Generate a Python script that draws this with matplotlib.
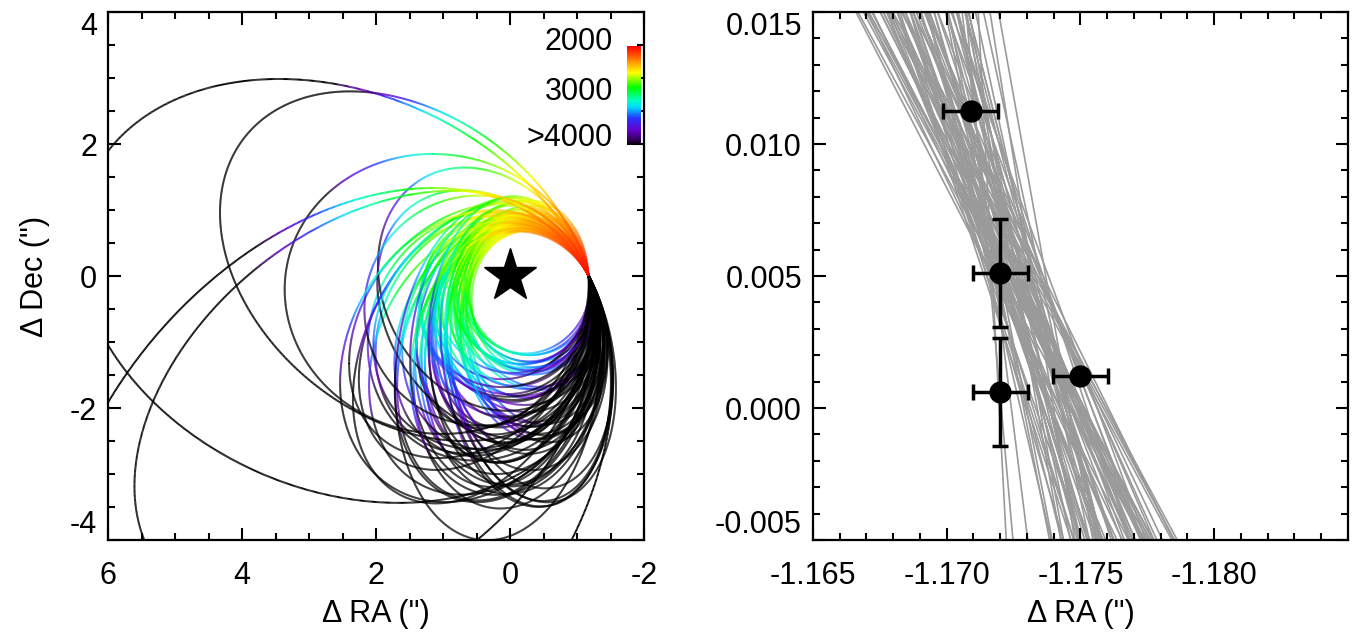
import numpy as np
import matplotlib
matplotlib.use("Agg")
import matplotlib.pyplot as plt
from matplotlib.collections import LineCollection
from matplotlib.colors import LinearSegmentedColormap, Normalize
from matplotlib.cm import ScalarMappable
from matplotlib.ticker import MultipleLocator

plt.rcParams['font.family'] = ['Liberation Sans', 'DejaVu Sans']
plt.rcParams['axes.unicode_minus'] = False

# measured astrometry (arcsec)
obs_ra = [-1.1709, -1.1720, -1.1720, -1.1750]
obs_dec = [0.01126, 0.0051, 0.0006, 0.00123]
obs_era = [0.00103, 0.00103, 0.00103, 0.00103]
obs_edec = [0.0002, 0.00205, 0.00205, 0.0002]

epoch = 2015.0
gm = 1.2e-5               # arcsec^3 / yr^2
ra_ref, dec_ref = -1.1726, 0.005

# accepted orbits: semi-major axis (arcsec), PA of sky motion (deg),
# line-of-sight offset (arcsec), radial share of the speed, RA offset of track (mas)
a_sma = [1.40, 1.15, 1.30, 1.60, 1.05, 1.60, 1.90, 1.20, 1.10, 1.70, 1.25, 1.65,
         1.95, 1.10, 1.40, 1.30, 1.75, 1.20, 1.30, 2.00, 1.05, 1.45, 1.80, 1.15,
         1.60, 1.00, 1.70, 1.30, 1.45, 1.20, 1.35, 1.75, 1.10, 1.60, 1.90, 1.25,
         1.05, 1.70, 1.35, 1.50, 1.80, 1.15, 1.40, 2.00, 1.20, 1.65, 1.35, 1.10,
         1.9, 2.1, 1.8, 2.2, 1.8, 2.1, 2.2, 1.7, 2.2, 2.0, 1.9, 2.2,
         2.0, 2.2, 1.8, 1.8, 2.1, 1.9, 1.9, 2.2, 2.2, 2.1, 2.2, 1.9,
         5.0, 3.5, 2.2, 2.4, 2.2, 2.6, 2.3, 2.5, 6.0, 2.2, 2.3, 4.0]
pa_vel = [18, 22, 14, 26, 20, 12, 28, 16, 24, 10, 28, 19,
          23, 15, 27, 21, 5, 13, 25, 28, 11, 20, 24, 16,
          22, 18, 27, 9, 26, 14, 21, 27, 15, 23, 19, 28,
          12, 25, 17, 22, 3, 10, 19, 24, 14, 26, 16, 21,
          18, 24, 14, 28, 20, 11, 22, 16, 26, 12, 19, 25,
          15, 28, 21, 13, 27, 17, 23, 7, 20, 27, 14, 18,
          20, 15, 25, 12, 28, 18, 22, 10, 28, 16, 24, 19]
z_los = [0.5, -0.5, 0.7, -1.1, 0.3, 1.0, 0.9, -0.9, 0.0, 1.1, -0.5, 1.2,
         -0.7, 0.3, -0.3, 0.9, -1.2, 0.2, -0.2, 0.6, -0.6, 0.4, -1.0, 0.8,
         -1.1, 0.1, 1.0, 0.5, -0.5, 0.7, -0.7, 1.2, -0.3, 1.0, -0.9, 0.0,
         0.6, -1.2, 0.4, -0.4, 1.1, -0.8, 0.2, -0.2, 0.6, -1.0, 0.1, -0.1,
         0.9, -0.9, 1.1, -1.1, 0.5, -0.5, 0.7, -0.7, 1.3, -1.3, 0.3, -0.3,
         0.9, -0.9, 1.1, -1.1, 0.6, -0.6, 0.0, 0.8, -0.8, 1.2, -1.2, 0.4,
         -1.0, 1.0, 0.8, -0.8, 1.2, -1.2, 0.2, -0.5, 0.5, 1.4, -1.4, 0.0]
vz_frac = [-0.25, 0.28, -0.40, 0.45, -0.12, -0.40, -0.45, 0.40, 0.00, -0.45, 0.14, -0.40,
           0.42, -0.27, -0.08, -0.28, 0.45, -0.18, 0.24, -0.42, 0.42, 0.08, 0.40, -0.28,
           0.50, -0.17, -0.50, -0.42, 0.08, -0.09, 0.35, -0.45, 0.30, -0.40, 0.48, -0.22,
           -0.24, 0.40, -0.33, 0.35, -0.42, 0.15, 0.11, -0.18, -0.30, 0.45, -0.31, 0.21,
           -0.45, 0.45, -0.40, 0.45, -0.35, 0.40, -0.45, 0.35, -0.45, 0.40, -0.30, 0.40,
           0.19, -0.21, -0.40, 0.40, -0.45, 0.45, -0.30, -0.45, 0.45, -0.35, 0.35, 0.20,
           -0.33, 0.33, -0.42, 0.42, -0.36, 0.35, -0.15, -0.20, 0.20, -0.34, 0.35, 0.25]
dra_off = [-0.3, 0.8, 0.1, -1.0, 0.5, -0.6, 0.2, 1.1, -0.8, 0.0, 0.6, -0.2,
           -0.9, 0.4, 0.9, -0.5, 1.0, -0.1, 0.3, -0.7, 0.7, -1.2, 0.2, 0.5,
           -0.4, 1.2, 0.0, -0.6, -0.1, 0.8, -0.9, 0.3, -0.3, 0.6, 1.0, -0.5,
           0.1, -0.8, 0.9, 0.4, 0.9, -1.1, 0.7, -0.2, -0.7, 0.2, 0.5, -0.4,
           1.1, 0.0, -0.6, 0.3, -1.0, 0.6, 0.8, -0.3, 0.1, -0.9, 0.4, 0.7,
           -0.5, 0.2, -0.1, 1.0, -0.8, 0.5, 0.0, 0.8, -0.4, 0.3, -0.7, 0.6,
           0.0, -0.5, 0.9, -0.2, 0.4, -1.0, 0.7, 0.1, -0.6, 0.2, -0.3, 0.5]

cmap = LinearSegmentedColormap.from_list("years", [
    (0.00, (1.0, 0.0, 0.0)), (0.10, (1.0, 0.35, 0.0)), (0.20, (1.0, 0.75, 0.0)),
    (0.27, (1.0, 1.0, 0.0)), (0.42, (0.0, 1.0, 0.0)), (0.55, (0.0, 1.0, 0.75)),
    (0.62, (0.0, 0.85, 1.0)), (0.73, (0.15, 0.2, 1.0)), (0.85, (0.4, 0.0, 0.8)),
    (0.95, (0.2, 0.0, 0.35)), (1.00, (0.0, 0.0, 0.0))])
norm = Normalize(vmin=2000, vmax=4000, clip=True)


def state(k):
    r = np.array([ra_ref + dra_off[k] * 1e-3, dec_ref, z_los[k]])
    vtot = np.sqrt(gm * (2.0 / np.linalg.norm(r) - 1.0 / a_sma[k]))
    vs = vtot * np.sqrt(1 - vz_frac[k] ** 2)
    pa = np.radians(pa_vel[k])
    v = np.array([vs * np.sin(pa), vs * np.cos(pa), vtot * vz_frac[k]])
    return r, v


def orbit_track(k, n=1500):
    r, v = state(k)
    rn = np.linalg.norm(r)
    a = a_sma[k]
    h = np.cross(r, v)
    ev = np.cross(v, h) / gm - r / rn
    e = np.linalg.norm(ev)
    p_hat = ev / e
    q_hat = np.cross(h / np.linalg.norm(h), p_hat)
    e0 = np.arctan2((r @ v) / (e * np.sqrt(gm * a)), (1 - rn / a) / e)
    m0 = e0 - e * np.sin(e0)
    ecc = e0 + np.linspace(0, 2 * np.pi, n)
    years = epoch + (ecc - e * np.sin(ecc) - m0) / np.sqrt(gm / a**3)
    pos = (a * (np.cos(ecc) - e))[:, None] * p_hat + \
          (a * np.sqrt(1 - e * e) * np.sin(ecc))[:, None] * q_hat
    return pos[:, 0], pos[:, 1], years


fig = plt.figure(figsize=(13.53, 6.32), dpi=100)
ax1 = fig.add_axes([108 / 1353, 1 - 540 / 632, 536 / 1353, 528 / 632])
ax2 = fig.add_axes([813 / 1353, 1 - 540 / 632, 535 / 1353, 528 / 632])

segs, cols = [], []
for k in range(len(a_sma)):
    x, y, yr = orbit_track(k)
    pts = np.column_stack([x, y])
    segs.append(np.stack([pts[:-1], pts[1:]], axis=1))
    cols.append(0.5 * (yr[:-1] + yr[1:]))
lc = LineCollection(np.concatenate(segs), cmap=cmap, norm=norm, linewidths=1.4)
lc.set_array(np.concatenate(cols))
ax1.add_collection(lc)
ax1.plot([0], [0], marker='*', color='k', ms=40, zorder=5)
ax1.set_xlim(6, -2)
ax1.set_ylim(-4, 4)
ax1.set_xticks([6, 4, 2, 0, -2])
ax1.set_yticks([-4, -2, 0, 2, 4])
ax1.xaxis.set_minor_locator(MultipleLocator(0.5))
ax1.yaxis.set_minor_locator(MultipleLocator(0.5))
ax1.set_xlabel('Δ RA (")', fontsize=22, labelpad=6)
ax1.set_ylabel('Δ Dec (")', fontsize=22, labelpad=14)

# colour bar inside the left panel
cax = fig.add_axes([627 / 1353, 1 - 145 / 632, 14 / 1353, 99 / 632])
cb = fig.colorbar(ScalarMappable(norm=norm, cmap=cmap), cax=cax)
cb.outline.set_visible(False)
cax.invert_yaxis()
cax.set_yticks([])
for lab, yy in [('2000', 1.04), ('3000', 0.54), ('>4000', 0.07)]:
    cax.text(-1.0, yy, lab, transform=cax.transAxes, ha='right', va='center', fontsize=22)

# zoom on the measured positions
tt = np.array([-4000.0, 4000.0])
for k in range(len(a_sma)):
    r, v = state(k)
    ax2.plot(r[0] + v[0] * tt, r[1] + v[1] * tt, color='#9a9a9a', lw=1.2, zorder=1)
ax2.errorbar(obs_ra, obs_dec, xerr=obs_era, yerr=obs_edec, fmt='o', color='k',
             ms=15, elinewidth=2.5, capsize=6, capthick=2.5, zorder=3)
ax2.set_xlim(-1.165, -1.185)
ax2.set_ylim(-0.005, 0.015)
ax2.xaxis.set_minor_locator(MultipleLocator(0.001))
ax2.yaxis.set_minor_locator(MultipleLocator(0.001))
ax2.set_xticks([-1.165, -1.170, -1.175, -1.180])
ax2.set_xticklabels(['-1.165', '-1.170', '-1.175', '-1.180'])
ax2.set_yticks([-0.005, 0.0, 0.005, 0.010, 0.015])
ax2.set_yticklabels(['-0.005', '0.000', '0.005', '0.010', '0.015'])
ax2.set_xlabel('Δ RA (")', fontsize=22, labelpad=6)

for ax in (ax1, ax2):
    ax.tick_params(which='both', direction='in', top=True, right=True,
                   labelsize=22, width=1.5)
    ax.tick_params(which='major', length=9)
    ax.tick_params(which='minor', length=5)
    ax.tick_params(axis='x', which='major', pad=15)
    ax.tick_params(axis='y', which='major', pad=8)
    for s in ax.spines.values():
        s.set_linewidth(1.6)
    ylabs = ax.get_yticklabels()
    ylabs[0].set_verticalalignment('bottom')
    ylabs[-1].set_verticalalignment('top')

fig.savefig("out.png", dpi=100)
